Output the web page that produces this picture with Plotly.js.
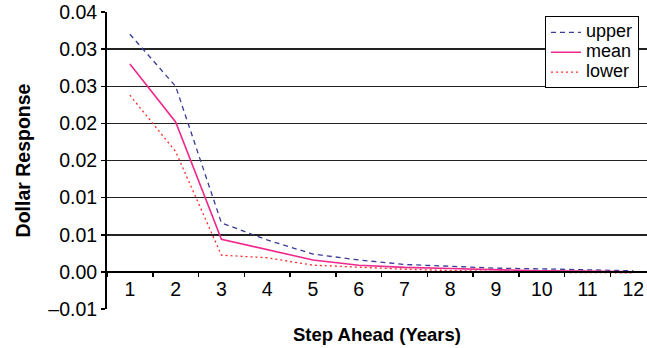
<!DOCTYPE html>
<html>
<head>
<meta charset="utf-8">
<script src="https://cdn.plot.ly/plotly-3.0.1.min.js"></script>
<style>
  html, body { margin: 0; padding: 0; background: #ffffff; }
  #chart { width: 647px; height: 348px; }
</style>
</head>
<body>
<div id="chart"></div>
<script>
// Data
const steps = ['1','2','3','4','5','6','7','8','9','10','11','12'];
const upperVals = [0.0320, 0.0250, 0.0066, 0.0043, 0.0024, 0.0016, 0.0010, 0.0007, 0.0005, 0.0004, 0.0003, 0.00015];
const meanVals  = [0.0280, 0.0202, 0.0044, 0.0030, 0.0016, 0.0009, 0.0006, 0.00045, 0.00027, 0.00013, 0.0001, 0.0000];
const lowerVals = [0.0238, 0.0162, 0.00225, 0.0019, 0.0009, 0.0006, 0.00036, 0.00018, 0.00005, -0.00005, -0.0001, -0.00013];
const seriesNames = ['upper', 'mean', 'lower'];
const yTickVals = [-0.005, 0, 0.005, 0.01, 0.015, 0.02, 0.025, 0.03, 0.035];
const yTickText = ['\u20130.01', '0.00', '0.01', '0.01', '0.02', '0.02', '0.03', '0.03', '0.04'];

const FONT = 'Liberation Sans, Arial, sans-serif';
const legendLabel = s => '<span style="font-size:18px">' + s + '</span>';

const traces = [
  { x: steps, y: upperVals, name: legendLabel(seriesNames[0]), type: 'scatter', mode: 'lines',
    line: { color: '#3a3a9a', width: 1.3, dash: '5px,4px' } },
  { x: steps, y: meanVals, name: legendLabel(seriesNames[1]), type: 'scatter', mode: 'lines',
    line: { color: '#f0288c', width: 1.6 } },
  { x: steps, y: lowerVals, name: legendLabel(seriesNames[2]), type: 'scatter', mode: 'lines',
    line: { color: '#ff2a2a', width: 1.3, dash: '2px,3px' } }
];

const layout = {
  width: 647, height: 348,
  margin: { l: 107, r: 0, t: 12, b: 39 },
  paper_bgcolor: '#ffffff', plot_bgcolor: '#ffffff',
  font: { family: FONT, size: 18, color: '#000000' },
  showlegend: true,
  legend: {
    x: 0.811, y: 0.985, xanchor: 'left', yanchor: 'top',
    bordercolor: '#000000', borderwidth: 1, bgcolor: '#ffffff',
    font: { family: FONT, size: 13, color: '#000000' },
    tracegroupgap: 0, itemwidth: 30
  },
  xaxis: {
    type: 'category',
    range: [-0.5, 11.3],
    anchor: 'free', position: 0.125,
    showline: true, linecolor: '#000000', linewidth: 2,
    ticks: 'outside', tickson: 'boundaries', ticklen: 4, tickwidth: 1.5, tickcolor: '#000000',
    showgrid: false, zeroline: false,
    tickfont: { family: FONT, size: 19.5, color: '#000000' },
    title: { text: '<b>Step Ahead (Years)</b>', font: { family: FONT, size: 18.5, color: '#000000' }, standoff: 28 }
  },
  yaxis: {
    range: [-0.005, 0.035],
    tickmode: 'array', tickvals: yTickVals, ticktext: yTickText,
    showline: true, linecolor: '#000000', linewidth: 2,
    ticks: 'outside', ticklen: 4, tickwidth: 1.5, tickcolor: '#000000',
    showgrid: true, gridcolor: '#222222', gridwidth: 1.5,
    zeroline: false,
    tickfont: { family: FONT, size: 19.5, color: '#000000' },
    title: { text: '<b>Dollar Response</b>', font: { family: FONT, size: 19.5, color: '#000000' }, standoff: 12 }
  }
};

Plotly.newPlot('chart', traces, layout, { displayModeBar: false, staticPlot: true });
</script>
</body>
</html>
